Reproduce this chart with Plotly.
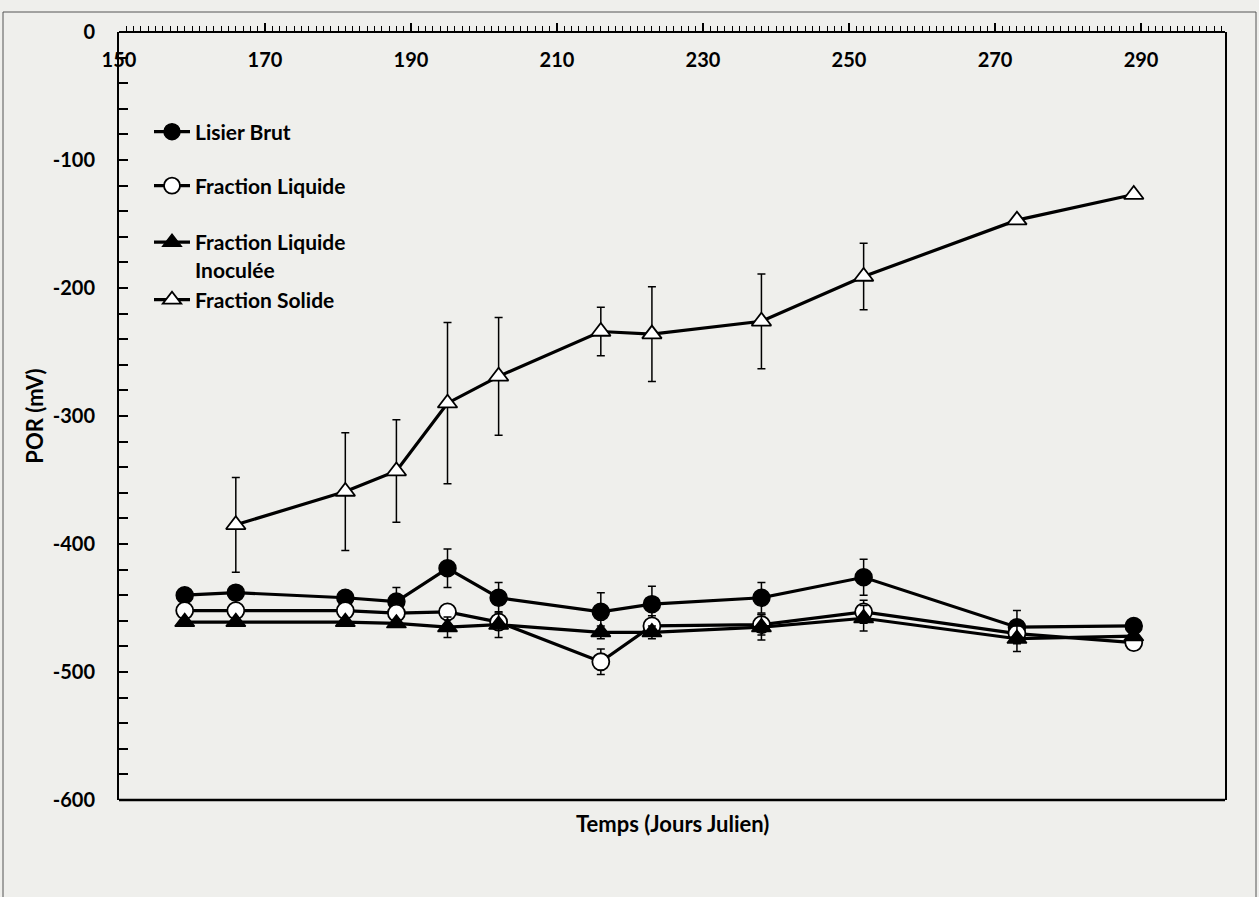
import plotly.graph_objects as go

# Sampling days (Julian day)
days = [159, 166, 181, 188, 195, 202, 216, 223, 238, 252, 273, 289]
days_solide = [166, 181, 188, 195, 202, 216, 223, 238, 252, 273, 289]

# Redox potential (mV) per treatment and standard deviations
lisier_brut = [-440, -438, -442, -445, -419, -442, -453, -447, -442, -426, -465, -464]
lisier_brut_err = [5, 5, 5, 11, 15, 12, 15, 14, 12, 14, 13, 4]

fraction_liquide = [-452, -452, -452, -454, -453, -461, -492, -464, -463, -453, -470, -477]
fraction_liquide_err = [3, 3, 3, 3, 5, 5, 10, 8, 8, 9, 5, 3]

fraction_liquide_inoc = [-461, -461, -461, -462, -465, -463, -469, -469, -465, -458, -474, -472]
fraction_liquide_inoc_err = [3, 3, 3, 3, 8, 10, 5, 5, 10, 10, 10, 3]

fraction_solide = [-385, -359, -343, -290, -269, -234, -236, -226, -191, -147, -127]
fraction_solide_err = [37, 46, 40, 63, 46, 19, 37, 37, 26, 0, 0]

y_ticks = [0, -100, -200, -300, -400, -500, -600]
x_ticks = [150, 170, 190, 210, 230, 250, 270, 290]

FONT = "Lato"
BG = "#efefec"
W, H = 1259, 897
ML, MR, MT, MB = 119, 34, 32, 97
PW, PH = W - ML - MR, H - MT - MB


def px_x(px):
    return (px - ML) / PW


def px_y(py):
    return (H - MB - py) / PH


def err(vals):
    return dict(type="data", array=vals, visible=True, color="black",
                thickness=1.5, width=4)


fig = go.Figure()

fig.add_trace(go.Scatter(
    x=days, y=lisier_brut, name="Lisier Brut", mode="lines+markers",
    line=dict(color="black", width=3.2),
    marker=dict(symbol="circle", size=17, color="black",
                line=dict(color="black", width=1.5)),
    error_y=err(lisier_brut_err), legend="legend"))

fig.add_trace(go.Scatter(
    x=days, y=fraction_liquide, name="Fraction Liquide", mode="lines+markers",
    line=dict(color="black", width=3.2),
    marker=dict(symbol="circle", size=17, color="white",
                line=dict(color="black", width=1.8)),
    error_y=err(fraction_liquide_err), legend="legend2"))

fig.add_trace(go.Scatter(
    x=days, y=fraction_liquide_inoc, name="Fraction Liquide<br>Inoculée",
    mode="lines+markers",
    line=dict(color="black", width=3.2),
    marker=dict(symbol="triangle-up", size=17, color="black",
                line=dict(color="black", width=1.5)),
    error_y=err(fraction_liquide_inoc_err), legend="legend3"))

fig.add_trace(go.Scatter(
    x=days_solide, y=fraction_solide, name="Fraction Solide",
    mode="lines+markers",
    line=dict(color="black", width=3.2),
    marker=dict(symbol="triangle-up", size=17, color="white",
                line=dict(color="black", width=1.8)),
    error_y=err(fraction_solide_err), legend="legend4"))

legend_font = dict(family=FONT, size=21, color="black", weight="bold")


def legend_box(py, anchor="middle"):
    return dict(x=px_x(149), y=px_y(py), xanchor="left", yanchor=anchor,
                bgcolor="rgba(0,0,0,0)", borderwidth=0, font=legend_font,
                itemwidth=36, valign="top", itemclick=False)


tick_font = dict(family=FONT, size=20, color="black", weight="bold")

fig.update_layout(
    width=W, height=H,
    margin=dict(l=ML, r=MR, t=MT, b=MB),
    paper_bgcolor=BG, plot_bgcolor=BG,
    showlegend=True,
    legend=legend_box(132),
    legend2=legend_box(186),
    legend3=legend_box(222, "top"),
    legend4=legend_box(300),
    # time axis sits on the 0 mV line, labels hang below it
    xaxis=dict(
        range=[150, 301.5], side="bottom", anchor="free", position=1,
        tickvals=x_ticks, ticktext=[str(v) for v in x_ticks],
        ticks="inside", ticklen=8, tickwidth=1.5, tickcolor="black",
        ticklabelstandoff=10,
        minor=dict(dtick=1, tick0=150, ticks="inside", ticklen=5,
                   tickwidth=1, tickcolor="black"),
        showline=True, linecolor="black", linewidth=2,
        showgrid=False, zeroline=False,
        tickfont=tick_font,
    ),
    yaxis=dict(
        range=[-600, 0],
        tickvals=y_ticks, ticktext=[str(v) for v in y_ticks],
        ticks="inside", ticklen=9, tickwidth=1.5, tickcolor="black",
        ticklabelstandoff=18,
        minor=dict(dtick=20, ticks="inside", ticklen=9, tickwidth=1.5,
                   tickcolor="black"),
        showline=True, linecolor="black", linewidth=2, mirror=True,
        showgrid=False, zeroline=False,
        tickfont=tick_font,
        title=dict(text="POR (mV)", standoff=3,
                   font=dict(family=FONT, size=22, color="black",
                             weight="bold")),
    ),
    annotations=[dict(
        text="Temps (Jours Julien)", xref="paper", yref="paper",
        x=px_x(672), y=px_y(823), xanchor="center", yanchor="middle",
        showarrow=False,
        font=dict(family=FONT, size=22, color="black", weight="bold"),
    )],
    shapes=[
        # bottom frame of the plotting area
        dict(type="line", xref="paper", yref="paper", x0=0, x1=1, y0=0, y1=0,
             line=dict(color="black", width=2.5), layer="above"),
        # chart border
        dict(type="rect", xref="paper", yref="paper",
             x0=px_x(3), x1=px_x(1256), y0=px_y(12), y1=px_y(905),
             line=dict(color="#555555", width=1), layer="below"),
    ],
)

fig.write_html("out.html")
